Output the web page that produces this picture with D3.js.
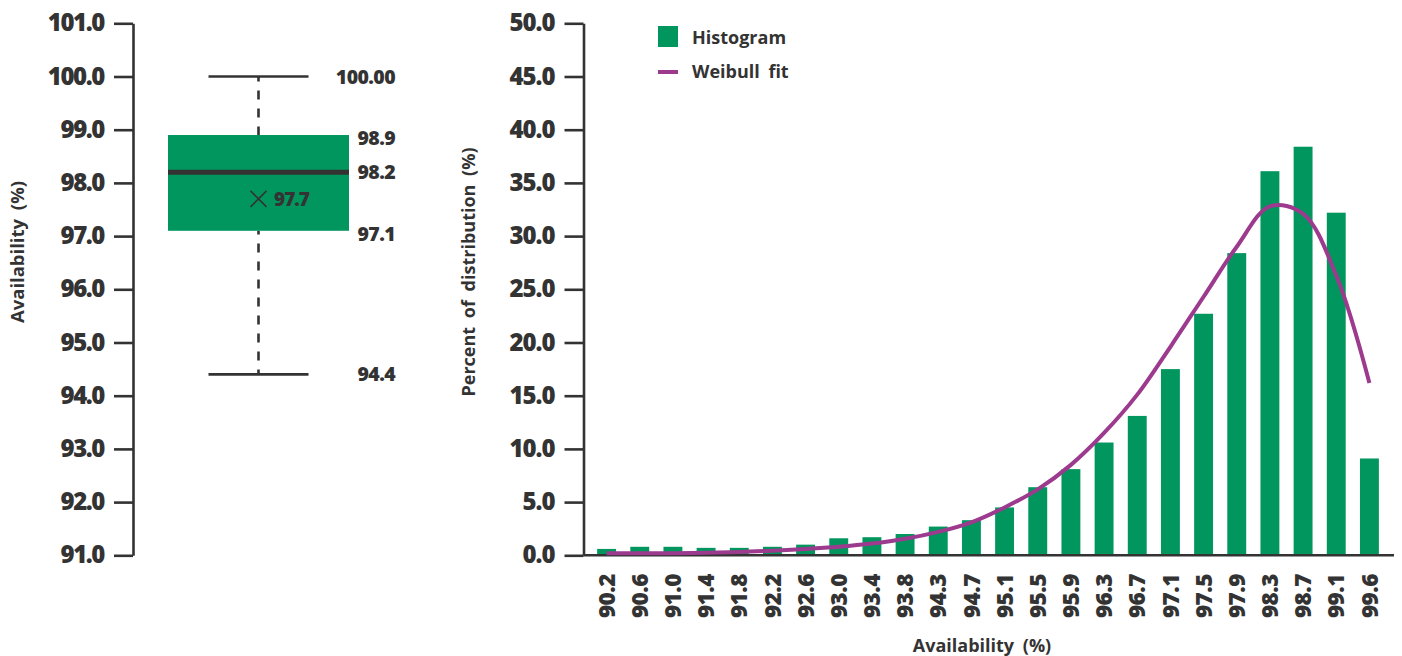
<!DOCTYPE html>
<html>
<head>
<meta charset="utf-8">
<script src="https://cdn.jsdelivr.net/npm/d3@7"></script>
<style>
  html, body { margin: 0; padding: 0; background: #fff; }
  svg { display: block; font-family: "Open Sans", "Noto Sans", sans-serif; }
  .axis path, .axis line { stroke: #333; stroke-width: 2.6; }
  .axis text { fill: #333; font-weight: 800; font-family: "Open Sans", "Noto Sans", sans-serif; }
</style>
</head>
<body>
<svg id="chart" width="1402" height="656"></svg>
<script>
// Box plot summary of availability (%)
const boxKeys   = ["max", "q3", "median", "q1", "min"];
const boxValues = [100.0, 98.9, 98.2, 97.1, 94.4];
const boxLabels = ["100.00", "98.9", "98.2", "97.1", "94.4"];
const boxMean   = 97.7;
const boxTicks  = [91, 92, 93, 94, 95, 96, 97, 98, 99, 100, 101];

// Histogram of availability bins (percent of distribution)
const categories = ["90.2","90.6","91.0","91.4","91.8","92.2","92.6","93.0","93.4","93.8","94.3","94.7",
                    "95.1","95.5","95.9","96.3","96.7","97.1","97.5","97.9","98.3","98.7","99.1","99.6"];
const histogram  = [0.6, 0.8, 0.8, 0.7, 0.7, 0.8, 1.0, 1.6, 1.7, 2.0, 2.7, 3.3,
                    4.5, 6.4, 8.1, 10.6, 13.1, 17.5, 22.7, 28.4, 36.1, 38.4, 32.2, 9.1];
const weibullFit = [0.2, 0.2, 0.2, 0.25, 0.3, 0.43, 0.6, 0.8, 1.1, 1.55, 2.2, 3.1,
                    4.5, 6.2, 8.5, 11.5, 15.1, 19.6, 24.3, 29.0, 32.8, 32.1, 26.3, 16.2];
const histTicks  = [0, 5, 10, 15, 20, 25, 30, 35, 40, 45, 50];

const GREEN = "#00965e";
const PURPLE = "#9c3a8e";
const INK = "#333333";
const FONT = '"Open Sans", "Noto Sans", sans-serif';

const svg = d3.select("#chart");

// ---------- Box plot ----------
const yBox = d3.scaleLinear().domain([91, 101]).range([555.3, 23.3]);
const boxAxisX = 133;

const gBoxAxis = svg.append("g")
  .attr("class", "axis")
  .attr("transform", `translate(${boxAxisX},0)`)
  .call(d3.axisLeft(yBox).tickValues(boxTicks).tickFormat(d3.format(".1f"))
        .tickSize(19).tickSizeOuter(0).tickPadding(10));
gBoxAxis.attr("font-family", FONT);
gBoxAxis.selectAll("text")
  .style("font-size", "24px").style("letter-spacing", "-1.4px");

svg.append("text")
  .attr("transform", `translate(24,252) rotate(-90)`)
  .attr("text-anchor", "middle")
  .attr("fill", INK)
  .style("font-size", "18.5px").style("font-weight", 700).style("word-spacing", "4px")
  .text("Availability (%)");

const stat = k => boxValues[boxKeys.indexOf(k)];
const boxLeft = 168, boxRight = 349, boxCx = 258.5;
const capHalf = 50;

// whiskers (dashed)
svg.append("line")
  .attr("x1", boxCx).attr("x2", boxCx)
  .attr("y1", yBox(stat("max"))).attr("y2", yBox(stat("q3")))
  .attr("stroke", INK).attr("stroke-width", 2.6)
  .attr("stroke-dasharray", "9,9").attr("stroke-dashoffset", 4);
svg.append("line")
  .attr("x1", boxCx).attr("x2", boxCx)
  .attr("y1", yBox(stat("min"))).attr("y2", yBox(stat("q1")))
  .attr("stroke", INK).attr("stroke-width", 2.6)
  .attr("stroke-dasharray", "9,9").attr("stroke-dashoffset", 4);

// whisker caps
["max", "min"].forEach(k => {
  svg.append("line")
    .attr("x1", boxCx - capHalf).attr("x2", boxCx + capHalf)
    .attr("y1", yBox(stat(k))).attr("y2", yBox(stat(k)))
    .attr("stroke", INK).attr("stroke-width", 2.6);
});

// box
svg.append("rect")
  .attr("x", boxLeft).attr("width", boxRight - boxLeft)
  .attr("y", yBox(stat("q3"))).attr("height", yBox(stat("q1")) - yBox(stat("q3")))
  .attr("fill", GREEN);

// median
svg.append("line")
  .attr("x1", boxLeft).attr("x2", boxRight)
  .attr("y1", yBox(stat("median"))).attr("y2", yBox(stat("median")))
  .attr("stroke", INK).attr("stroke-width", 5);

// mean marker
const my = yBox(boxMean), mx = boxCx, ms = 8;
svg.append("path")
  .attr("d", `M${mx - ms},${my - ms}L${mx + ms},${my + ms}M${mx - ms},${my + ms}L${mx + ms},${my - ms}`)
  .attr("stroke", INK).attr("stroke-width", 1.5).attr("fill", "none");
svg.append("text")
  .attr("x", 274).attr("y", my).attr("dy", "0.36em")
  .attr("fill", INK)
  .style("font-size", "19px").style("font-weight", 800).style("letter-spacing", "-1px")
  .text(d3.format(".1f")(boxMean));

// value labels
const labelOffsets = { max: 0, q3: 3, median: 0, q1: 3, min: 0 };
svg.append("g").selectAll("text")
  .data(boxKeys)
  .join("text")
  .attr("x", 395)
  .attr("y", (k) => yBox(stat(k)) + labelOffsets[k])
  .attr("dy", "0.36em")
  .attr("text-anchor", "end")
  .attr("fill", INK)
  .style("font-size", "19.5px").style("font-weight", 800).style("letter-spacing", "-0.6px")
  .text((k, i) => boxLabels[i]);

// ---------- Histogram ----------
const yHist = d3.scaleLinear().domain([0, 50]).range([555.3, 23.3]);
const xHist = d3.scaleBand().domain(categories).range([590, 1386])
  .paddingInner(0.43).paddingOuter(0.215);
const histAxisX = 583.5;

const gHistAxis = svg.append("g")
  .attr("class", "axis")
  .attr("transform", `translate(${histAxisX},0)`)
  .call(d3.axisLeft(yHist).tickValues(histTicks).tickFormat(d3.format(".1f"))
        .tickSize(19).tickSizeOuter(0).tickPadding(10));
gHistAxis.attr("font-family", FONT);
gHistAxis.selectAll("text")
  .style("font-size", "24px").style("letter-spacing", "-1px");

svg.append("text")
  .attr("transform", `translate(475,272) rotate(-90)`)
  .attr("text-anchor", "middle")
  .attr("fill", INK)
  .style("font-size", "18px").style("font-weight", 700).style("word-spacing", "4px")
  .text("Percent of distribution (%)");

// bars
svg.append("g").selectAll("rect")
  .data(histogram)
  .join("rect")
  .attr("x", (d, i) => xHist(categories[i]))
  .attr("width", xHist.bandwidth())
  .attr("y", d => yHist(d))
  .attr("height", d => yHist(0) - yHist(d))
  .attr("fill", GREEN);

// baseline
svg.append("line")
  .attr("x1", histAxisX).attr("x2", 1394)
  .attr("y1", yHist(0)).attr("y2", yHist(0))
  .attr("stroke", INK).attr("stroke-width", 2.6);

// category labels
svg.append("g").selectAll("text")
  .data(categories)
  .join("text")
  .attr("transform", d => `translate(${xHist(d) + xHist.bandwidth() / 2},574) rotate(-90)`)
  .attr("dy", "0.36em")
  .attr("text-anchor", "end")
  .attr("fill", INK)
  .style("font-size", "22.5px").style("font-weight", 800).style("letter-spacing", "-0.5px")
  .text(d => d);

svg.append("text")
  .attr("x", 982).attr("y", 652)
  .attr("text-anchor", "middle")
  .attr("fill", INK)
  .style("font-size", "18px").style("font-weight", 700).style("word-spacing", "4px")
  .text("Availability (%)");

// Weibull fit curve
const fitLine = d3.line()
  .x((d, i) => xHist(categories[i]) + xHist.bandwidth() / 2)
  .y(d => yHist(d))
  .curve(d3.curveCatmullRom.alpha(0.5));
svg.append("path")
  .datum(weibullFit)
  .attr("d", fitLine)
  .attr("fill", "none")
  .attr("stroke", PURPLE)
  .attr("stroke-width", 4);

// legend
const legend = svg.append("g");
legend.append("rect").attr("x", 658).attr("y", 26).attr("width", 20).attr("height", 21).attr("fill", GREEN);
legend.append("text").attr("x", 692).attr("y", 38).attr("dy", "0.36em")
  .attr("fill", INK).style("font-size", "18px").style("font-weight", 700)
  .text("Histogram");
legend.append("line").attr("x1", 658).attr("x2", 678).attr("y1", 72).attr("y2", 72)
  .attr("stroke", PURPLE).attr("stroke-width", 4);
legend.append("text").attr("x", 692).attr("y", 72).attr("dy", "0.36em")
  .attr("fill", INK).style("font-size", "18px").style("font-weight", 700).style("word-spacing", "4px")
  .text("Weibull fit");
</script>
</body>
</html>
